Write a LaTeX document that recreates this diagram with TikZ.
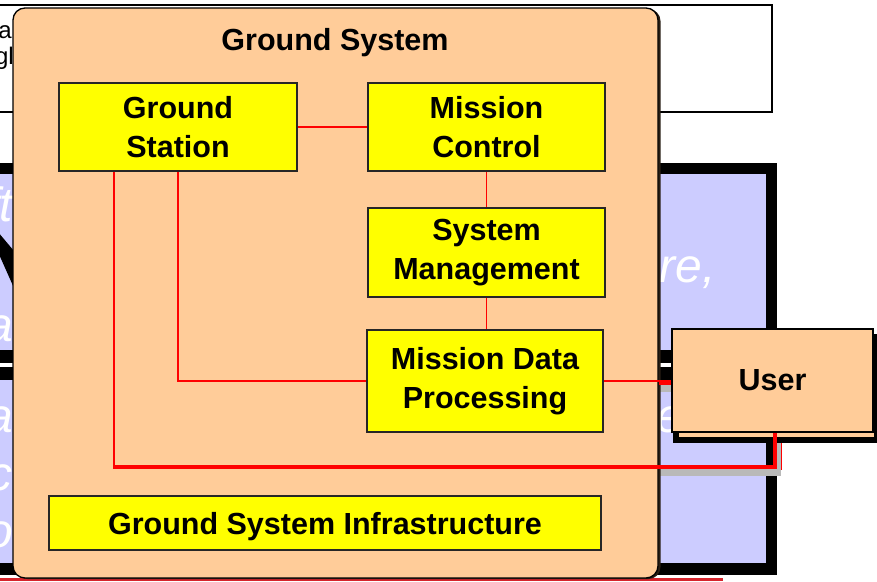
\documentclass[tikz,border=0pt]{standalone}
\usepackage{fontspec}
\setmainfont{Liberation Sans}
\usetikzlibrary{calc}
\definecolor{peach}{RGB}{255,204,153}
\definecolor{lav}{RGB}{204,204,255}
\definecolor{ylw}{RGB}{255,255,0}
\definecolor{edge}{RGB}{40,30,20}
\definecolor{deepred}{RGB}{214,36,44}

\begin{document}
\begin{tikzpicture}[x=1pt,y=-1pt,
  unit/.style={rectangle, draw=black!85, line width=1.4pt, fill=ylw, inner sep=0pt,
    align=center, font=\bfseries\fontsize{30.5}{39}\selectfont},
  link/.style={red, line width=1.7pt},
  trunk/.style={red, line width=4.8pt},
  ghost/.style={text=white, inner sep=0pt, font=\itshape\fontsize{48}{56}\selectfont},
  crumb/.style={text=black, inner sep=0pt, font=\fontsize{24}{28}\selectfont},
]
\useasboundingbox (0,0) rectangle (877,581);
\begin{scope}
\clip (0,0) rectangle (877,581);

% white panel behind, top
\draw[line width=2pt, fill=white] (-20,5) rectangle (772,112);
\node[crumb, anchor=base east] (ca) at (12,38) {a};
\node[crumb, anchor=base east] (cg) at (14,64) {gl};

% lavender panel with heavy black frame
\fill[black] (-20,163) rectangle (777,575);
\fill[lav] (-20,174) rectangle (766,563);
\fill[black] (-20,350) rectangle (766,380);
\fill[white] (-20,362.5) rectangle (766,366.5);
\fill[black] (-2,232) -- (14,251) -- (14,288) -- (-2,252) -- cycle;
\fill[gray!55] (655,385) rectangle (672,392);
\fill[gray!55] (658,469) rectangle (781,476);
\fill[gray!55] (777,442) rectangle (781,476);
\draw[red, line width=1pt] (781.5,442) -- (781.5,470);

\node[ghost, anchor=base east] (wf) at (13,221) {ft};
\node[ghost, anchor=base east] (wa) at (13,341) {a};
\node[ghost, anchor=base east] (wb) at (13,432) {a};
\node[ghost, anchor=base east] (wc) at (13,490) {c};
\node[ghost, anchor=base east] (wo) at (13,547) {o};
\node[ghost, anchor=base east] (wu) at (716,282) {ure,};
\node[ghost, anchor=base west] (we) at (656,432) {e};

% red rule along the foot
\fill[deepred] (-20,577.5) rectangle (723,581);

% ground system container
\node[rectangle, rounded corners=12pt, fill=edge, minimum width=645, minimum height=570,
  inner sep=0pt] (gshadow) at (338,294) {};
\node[rectangle, rounded corners=12pt, fill=peach, draw=black, line width=1.3pt,
  minimum width=645, minimum height=570, inner sep=0pt] (gsys) at (335.5,293) {};
\node[font=\bfseries\fontsize{30.5}{36}\selectfont, inner sep=0pt, anchor=base] (gtitle) at (335,50) {Ground System};

% subsystems
\node[unit, minimum width=238, minimum height=88] (gstation) at (178,127) {Ground\\Station};
\node[unit, minimum width=237, minimum height=88] (mctrl) at (486.5,127) {Mission\\Control};
\node[unit, minimum width=237, minimum height=89] (sysmgmt) at (486.5,252.5) {System\\Management};
\node[unit, minimum width=236, minimum height=102] (mdp) at (485,381) {Mission Data\\Processing};
\node[unit, minimum width=552, minimum height=54, text depth=0pt] (gsi) at (325,523) {Ground System Infrastructure};

% user box with its offset shadow
\node[rectangle, fill=peach, draw=black, line width=6pt, minimum width=201, minimum height=103,
  inner sep=0pt] (ushadow) at (776.5,388.5) {};
\node[rectangle, fill=peach, draw=black, line width=1.5pt, minimum width=201, minimum height=103,
  inner sep=0pt, font=\bfseries\fontsize{30.5}{36}\selectfont] (user) at (772.5,380.5) {User};

\end{scope}

% connectors
\coordinate (gsA) at ($(gstation.south west)+(56,0)$);
\coordinate (bend) at (775,467);
\draw[link] (gstation.east) -- (mctrl.west);
\draw[link] (mctrl.south) -- (sysmgmt.north);
\draw[link] (sysmgmt.south) -- (sysmgmt.south |- mdp.north);
\draw[link] (gstation.south) |- (mdp.west);
\draw[link] (mdp.east) -- (mdp.east -| user.west);
\draw[red, line width=4.5pt] ($(mdp.east -| gsys.east)+(0,1.5)$) -- ($(mdp.east -| user.west)+(0,1.5)$);
\draw[link] (gsA) -- (gsA |- bend);
\draw[trunk, line join=miter] ($(gsA |- bend)+(-0.9,0)$) -- (bend) -- (bend |- user.south);
\end{tikzpicture}
\end{document}
